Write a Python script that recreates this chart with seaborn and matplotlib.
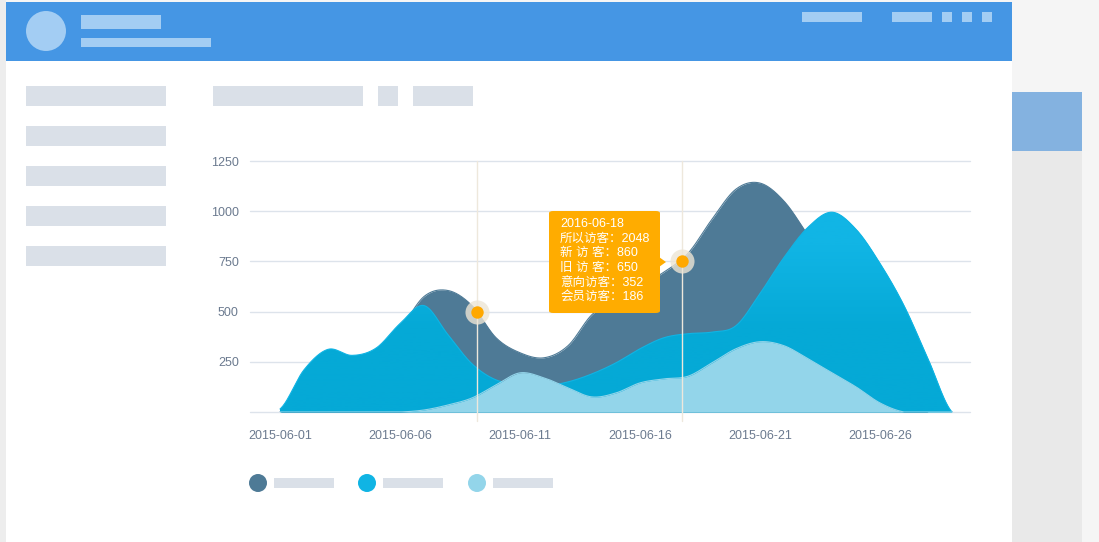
import numpy as np
import pandas as pd
import seaborn as sns
import matplotlib.pyplot as plt
from matplotlib.patches import Rectangle, Ellipse, FancyBboxPatch, Polygon
from matplotlib.colors import LinearSegmentedColormap

# data, one value per day (2015-06-01 .. 2015-06-29)
dates = pd.date_range("2015-06-01", "2015-06-29", freq="D")
dark = [0, 60, 140, 200, 280, 410, 575, 605, 530, 370, 295, 270, 330, 485,
        557, 627, 697, 790, 960, 1110, 1140, 1050, 880, 700, 500, 300, 120, 0, 0]
medium = [15, 210, 312, 282, 318, 440, 530, 385, 240, 160, 140, 130, 150, 190,
          245, 315, 370, 390, 398, 430, 590, 770, 920, 995, 910, 740, 530, 265, 0]
light = [0, 0, 0, 0, 0, 0, 10, 35, 70, 135, 195, 170, 120, 75,
         95, 145, 165, 178, 245, 315, 350, 330, 265, 195, 125, 45, 0, 0, 0]
series_colors = ["#4E7A96", "#10B4E4", "#93D5EA"]

tick_dates = ["2015-06-01", "2015-06-06", "2015-06-11", "2015-06-16", "2015-06-21", "2015-06-26"]
y_ticks = [0, 250, 500, 750, 1000, 1250]

hover_times = ["2015-06-09 04:48", "2015-06-17 18:00"]
hover_values = [500, 750]

tooltip_title = "2016-06-18"
tooltip_names = ["所以访客", "新 访 客", "旧 访 客", "意向访客", "会员访客"]
tooltip_values = [2048, 860, 650, 352, 186]

W, H = 1099, 542
base = pd.Timestamp("2015-06-01")


def smooth(x, y, n=24):
    # catmull-rom style curve through the daily points (drawing only)
    x = np.asarray(x, float)
    y = np.asarray(y, float)
    xs, ys = [], []
    t = np.linspace(0, 1, n, endpoint=False)
    h00 = 2 * t**3 - 3 * t**2 + 1
    h10 = t**3 - 2 * t**2 + t
    h01 = -2 * t**3 + 3 * t**2
    h11 = t**3 - t**2
    for i in range(len(x) - 1):
        y0 = y[i - 1] if i > 0 else y[i]
        y3 = y[i + 2] if i + 2 < len(y) else y[i + 1]
        m1 = (y[i + 1] - y0) / 2
        m2 = (y3 - y[i]) / 2
        xs.append(x[i] + t * (x[i + 1] - x[i]))
        ys.append(h00 * y[i] + h10 * m1 + h01 * y[i + 1] + h11 * m2)
    xs.append([x[-1]])
    ys.append([y[-1]])
    return np.concatenate(xs), np.clip(np.concatenate(ys), 0, None)


def px_rect(x0, y0, x1, y1, color, z=-5):
    fig.patches.append(Rectangle((x0 / W, 1 - y1 / H), (x1 - x0) / W, (y1 - y0) / H,
                                 transform=fig.transFigure, facecolor=color,
                                 edgecolor="none", zorder=z))


def px_circle(cx, cy, r, color, z=-4):
    fig.patches.append(Ellipse((cx / W, 1 - cy / H), 2 * r / W, 2 * r / H,
                               transform=fig.transFigure, facecolor=color,
                               edgecolor="none", zorder=z))


sns.set_theme(style="white")
plt.rcParams["font.family"] = ["Liberation Sans", "Noto Sans CJK SC", "DejaVu Sans"]

fig = plt.figure(figsize=(W / 100, H / 100), dpi=100, facecolor="#F5F5F5")

# page mockup around the chart
px_rect(0, 0, 6, H, "#EDEDED", -9)
px_rect(6, 2, 1012, H, "#FFFFFF", -8)
px_rect(6, 2, 1012, 61, "#4596E4", -7)
px_circle(46, 31, 20, "#A3CDF3")
px_rect(81, 15, 161, 29, "#A3CDF3")
px_rect(81, 38, 211, 47, "#A3CDF3")
for x0, x1 in [(802, 862), (892, 932), (942, 952), (962, 972), (982, 992)]:
    px_rect(x0, 12, x1, 22, "#A3CDF3")
px_rect(1012, 92, 1082, 151, "#84B2E0", -7)
px_rect(1012, 151, 1082, H, "#E9E9E9", -7)
for y0 in [86, 126, 166, 206, 246]:
    px_rect(26, y0, 166, y0 + 20, "#DAE0E8")
for x0, x1 in [(213, 363), (378, 398), (413, 473)]:
    px_rect(x0, 86, x1, 106, "#DAE0E8")

ax = fig.add_axes([250 / W, 1 - 412 / H, 720 / W, 251 / H])
ax.set_facecolor("none")

days = (dates - base).days.values
xd, yd = smooth(days, dark)
xm, ym = smooth(days, medium)
xl, yl = smooth(days, light)

ax.fill_between(xd, yd, color=series_colors[0], lw=0, zorder=2)
sns.lineplot(x=xd, y=yd, ax=ax, color=series_colors[0], lw=0.8, zorder=2)

poly = ax.fill_between(xm, ym, color="#05AAD6", lw=0, zorder=2.1)
grad = LinearSegmentedColormap.from_list("g", ["#05A9D6", "#05A9D6", "#11B5E5", "#11B5E5"])
im = ax.imshow(np.linspace(0, 1, 256).reshape(-1, 1), extent=[-1.25, 28.75, 0, 1250],
               origin="lower", aspect="auto", cmap=grad, zorder=2.2)
im.set_clip_path(poly.get_paths()[0], transform=ax.transData)
sns.lineplot(x=xm, y=ym, ax=ax, color=series_colors[1], lw=0.8, zorder=2.3)

ax.fill_between(xl, yl, color=series_colors[2], lw=0, zorder=2.5)
sns.lineplot(x=xl, y=yl, ax=ax, color=series_colors[2], lw=0.8, zorder=2.5)

ax.set_xlim(-1.25, 28.75)
ax.set_ylim(0, 1250)
ax.set_yticks(y_ticks)
ax.set_yticklabels(["" if v == 0 else str(v) for v in y_ticks])
ax.set_xticks([(pd.Timestamp(t) - base).days for t in tick_dates])
ax.set_xticklabels(tick_dates)
ax.yaxis.grid(True, color="#DDE3EB", lw=1)
ax.xaxis.grid(False)
for gl in ax.get_ygridlines():
    gl.set_clip_on(False)
ax.set_axisbelow(True)
ax.tick_params(length=0, labelsize=9, labelcolor="#6B7A8F")
ax.tick_params(axis="y", pad=8)
ax.tick_params(axis="x", pad=13)
for s in ax.spines.values():
    s.set_visible(False)
ax.set_xlabel("")
ax.set_ylabel("")

# hover state
hx = [(pd.Timestamp(t) - base) / pd.Timedelta(days=1) for t in hover_times]
for x in hx:
    ax.axvline(x, ymin=-0.035, ymax=1, color="#EEE8DC", lw=1, clip_on=False, zorder=3)
ax.scatter(hx, hover_values, s=300, color="#EDE5D5", alpha=0.8, lw=0, zorder=6)
ax.scatter(hx, hover_values, s=80, color="#FFA800", lw=0, zorder=7)

# tooltip
box = FancyBboxPatch((549 / W, 1 - 313 / H), 111 / W, 102 / H,
                     boxstyle="round,pad=0,rounding_size=0.004",
                     transform=fig.transFigure, facecolor="#FFAC00",
                     edgecolor="none", zorder=10)
fig.patches.append(box)
fig.patches.append(Polygon([(659 / W, 1 - 257 / H), (666 / W, 1 - 262 / H), (659 / W, 1 - 267 / H)],
                           closed=True, transform=fig.transFigure,
                           facecolor="#FFAC00", edgecolor="none", zorder=10))
lines = [tooltip_title] + [f"{n}：{v}" for n, v in zip(tooltip_names, tooltip_values)]
for i, line in enumerate(lines):
    fig.text(560 / W, 1 - (224 + i * 14.6) / H, line, color="white", fontsize=9,
             ha="left", va="center", zorder=11,
             family=["Liberation Sans", "Noto Sans CJK SC", "DejaVu Sans"])

# legend placeholder
for cx, c in zip([258, 367, 477], series_colors):
    px_circle(cx, 483, 9, c)
    px_rect(cx + 16, 478, cx + 76, 488, "#DAE0E8")

fig.savefig("out.png", dpi=100, facecolor=fig.get_facecolor())
